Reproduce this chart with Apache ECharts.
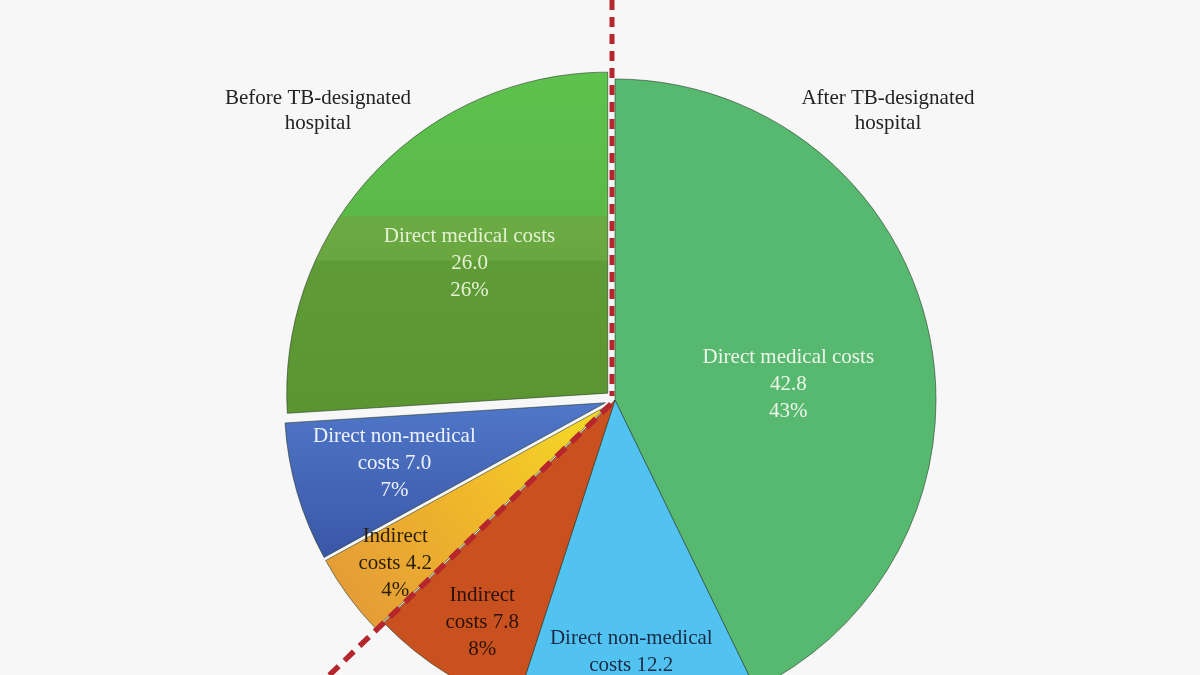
<!DOCTYPE html>
<html>
<head>
<meta charset="utf-8">
<script src="https://cdn.jsdelivr.net/npm/echarts@6/dist/echarts.min.js"></script>
<style>
html,body{margin:0;padding:0;background:#f7f7f7;}
#main{width:1200px;height:675px;}
</style>
</head>
<body>
<div id="main"></div>
<script>
// ---- data ----
const periods = ['After', 'After', 'After', 'Before', 'Before', 'Before'];
const categories = ['Direct medical costs', 'Direct non-medical costs', 'Indirect costs',
                    'Indirect costs', 'Direct non-medical costs', 'Direct medical costs'];
const values = [42.8, 12.2, 7.8, 4.2, 7.0, 26.0];
const groupTitles = ['Before TB-designated\nhospital', 'After TB-designated\nhospital'];

// ---- styles (not data) ----
const CX = 615, CY = 400, R = 321;
const sliceColors = [
  '#57b86f',
  '#52c3f1',
  '#c9511f',
  {type:'linear', x:1, y:0, x2:0, y2:1, colorStops:[{offset:0,color:'#f5dc26'},{offset:0.45,color:'#f0b82a'},{offset:1,color:'#e2963a'}]},
  {type:'linear', x:0, y:0, x2:0, y2:1, colorStops:[{offset:0,color:'#5077c8'},{offset:1,color:'#3a56a6'}]},
  {type:'linear', x:0, y:0, x2:0, y2:1, colorStops:[
     {offset:0,color:'#5dc24d'},{offset:0.42,color:'#5bb948'},{offset:0.425,color:'#6cab44'},
     {offset:0.55,color:'#6aa640'},{offset:0.555,color:'#5f9b36'},{offset:1,color:'#5b9531'}]}
];
const labelColors = ['#eef6ea', '#1b2a45', '#2b1208', '#2a1e05', '#eef2ff', '#e4f2d4'];
const labelShift = [[14, 21], [5, 102], [-46, 84], [-80, 61], [-54, 15], [-19, -18]];

const total = values.reduce((a, b) => a + b, 0);
const afterSum = values.filter((v, i) => periods[i] === 'After').reduce((a, b) => a + b, 0);

const seriesData = values.map((v, i) => ({
  name: periods[i] + ': ' + categories[i],
  value: v,
  selected: periods[i] === 'Before',
  itemStyle: { color: sliceColors[i] },
  label: { color: labelColors[i] }
}));

function fmt(p) {
  const c = categories[p.dataIndex];
  const v = values[p.dataIndex].toFixed(1);
  let head;
  if (c === 'Direct medical costs') head = c + '\n' + v;
  else {
    const k = c.lastIndexOf(' ');
    head = c.slice(0, k) + '\n' + c.slice(k + 1) + ' ' + v;
  }
  return head + '\n' + Math.round(p.percent) + '%';
}

// dashed divider along the before/after boundary
const bAngle = (90 - afterSum / total * 360) * Math.PI / 180;
const ext = 700;
const red = '#b5272d';

const chart = echarts.init(document.getElementById('main'), null, {renderer: 'canvas'});
chart.setOption({
  backgroundColor: '#f7f7f7',
  animation: false,
  series: [{
    type: 'pie',
    center: [CX, CY],
    radius: [0, R],
    startAngle: 90,
    clockwise: true,
    selectedMode: 'multiple',
    selectedOffset: 10,
    avoidLabelOverlap: false,
    silent: true,
    itemStyle: { borderColor: 'rgba(30,50,30,0.55)', borderWidth: 1 },
    label: {
      show: true,
      position: 'inside',
      formatter: fmt,
      fontFamily: 'Liberation Serif',
      fontSize: 21,
      lineHeight: 27,
      align: 'center'
    },
    labelLine: { show: false },
    labelLayout: function (params) {
      const s = labelShift[params.dataIndex];
      return { dx: s[0], dy: s[1] };
    },
    emphasis: { disabled: true },
    data: seriesData
  }],
  graphic: [
    { type: 'text', x: 318, y: 86, z: 10,
      style: { text: groupTitles[0], textAlign: 'center', textVerticalAlign: 'top',
               font: '21px "Liberation Serif"', lineHeight: 25, fill: '#222' } },
    { type: 'text', x: 888, y: 86, z: 10,
      style: { text: groupTitles[1], textAlign: 'center', textVerticalAlign: 'top',
               font: '21px "Liberation Serif"', lineHeight: 25, fill: '#222' } },
    { type: 'line', z: 20,
      shape: { x1: CX - 3, y1: 0, x2: CX - 3, y2: CY - 4 },
      style: { stroke: red, lineWidth: 5, lineDash: [10, 7] } },
    { type: 'line', z: 20,
      shape: { x1: CX - 4, y1: CY + 4,
               x2: CX + ext * Math.cos(bAngle), y2: CY - ext * Math.sin(bAngle) },
      style: { stroke: red, lineWidth: 5.5, lineDash: [13, 8] } }
  ]
});
</script>
</body>
</html>
